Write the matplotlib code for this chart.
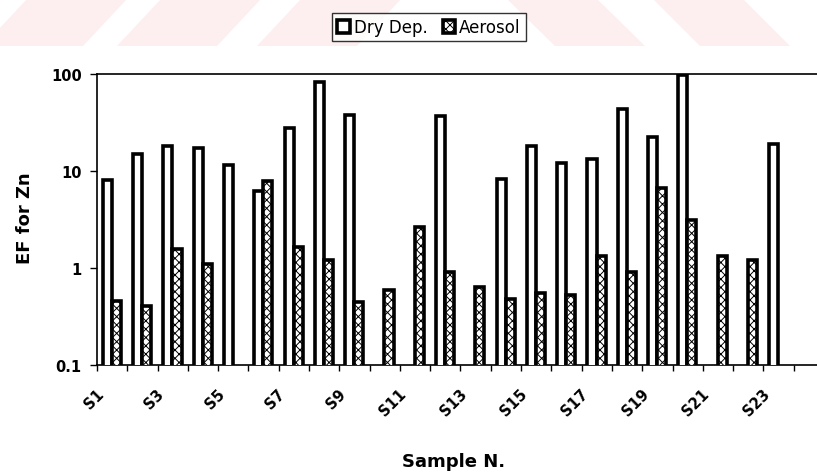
import numpy as np
import matplotlib
matplotlib.use('Agg')
import matplotlib.pyplot as plt
from matplotlib.patches import Polygon
from matplotlib import transforms

plt.rcParams['font.family'] = ['DejaVu Sans']
plt.rcParams['hatch.linewidth'] = 0.7

# EF for Zn, samples S1..S24 (nan = no bar)
samples = ['S%d' % i for i in range(1, 25)]
dry_dep = [8.0, 14.8, 18.0, 17.3, 11.4, 6.2, 27.7, 83.0, 38.0, np.nan,
           np.nan, 36.5, np.nan, 8.2, 18.3, 12.0, 13.4, 43.4, 22.4, 97.0,
           np.nan, np.nan, 19.0, np.nan]
aerosol = [0.46, 0.41, 1.58, 1.09, np.nan, 7.9, 1.64, 1.2, 0.45, 0.60,
           2.63, 0.91, 0.64, 0.48, 0.55, 0.53, 1.33, 0.91, 6.7, 3.1,
           1.33, 1.2, np.nan, np.nan]

W, H = 817, 477
fig = plt.figure(figsize=(W / 100, H / 100), dpi=100)

# faint pink stripes across the top (background watermark)
pink = '#fdeef0'
def band(x_top, x_bot, w):
    pts = [(x_bot, 47), (x_bot + w, 47), (x_top + w, 0), (x_top, 0)]
    pts = [(x / W, 1 - y / H) for x, y in pts]
    fig.patches.append(Polygon(pts, closed=True, transform=fig.transFigure,
                               facecolor=pink, edgecolor='none', zorder=0))

for xb in [-17, 117, 257]:
    band(xb + 44, xb, 100)
band(507, 555, 90)
band(653, 700, 90)

# axes: category boundaries at -0.5 .. 23.5, right edge runs off the image
ax = fig.add_axes([97 / W, 1 - 366 / H, (824 - 97) / W, (366 - 75) / H])
ax.set_facecolor('none')
x = np.arange(len(samples))

ax.bar(x - 0.16, dry_dep, width=0.3, color='white', edgecolor='black',
       linewidth=2.6, label='Dry Dep.', zorder=3)
ax.bar(x + 0.14, aerosol, width=0.3, color='white', edgecolor='black',
       linewidth=2.6, hatch='xxxx', label='Aerosol', zorder=3)

ax.set_yscale('log')
ax.set_ylim(0.1, 100)
ax.set_xlim(-0.5, len(samples) - 0.5)
ax.set_yticks([0.1, 1, 10, 100])
ax.set_yticklabels(['0.1', '1', '10', '100'], fontweight='bold')
ax.minorticks_off()
ax.tick_params(axis='y', length=5, width=1, pad=6, labelsize=10.5)

# ticks between categories, labels (every other one) at centres
ax.set_xticks(x[::2])
ax.set_xticklabels(samples[::2], rotation=45, ha='right', va='center',
                   rotation_mode='anchor', fontsize=10.5, fontweight='bold')
ax.set_xticks(np.arange(len(samples) + 1) - 0.5, minor=True)
ax.tick_params(axis='x', which='major', length=0, pad=19)
ax.tick_params(axis='x', which='minor', length=4, width=1)
shift = transforms.ScaledTranslation(-11 / 100, 0, fig.dpi_scale_trans)
for lab in ax.get_xticklabels():
    lab.set_transform(lab.get_transform() + shift)

for s in ['left', 'bottom', 'top']:
    ax.spines[s].set_linewidth(1.2)
ax.spines['right'].set_visible(False)

fig.text(25 / W, 1 - 218 / H, 'EF for Zn', rotation=90, ha='center',
         va='center', fontsize=13, fontweight='bold')
fig.text(454 / W, 1 - 462 / H, 'Sample N.', ha='center', va='center',
         fontsize=13, fontweight='bold')

leg = fig.legend(loc='upper center', bbox_to_anchor=(429 / W, 1 - 6 / H),
                 ncol=2, fontsize=12, frameon=True, fancybox=False,
                 handlelength=0.75, handleheight=0.75, handletextpad=0.25,
                 columnspacing=0.9, borderpad=0.3)
leg.get_frame().set_edgecolor('black')
leg.get_frame().set_linewidth(1.0)

fig.savefig('out.png', dpi=100)
